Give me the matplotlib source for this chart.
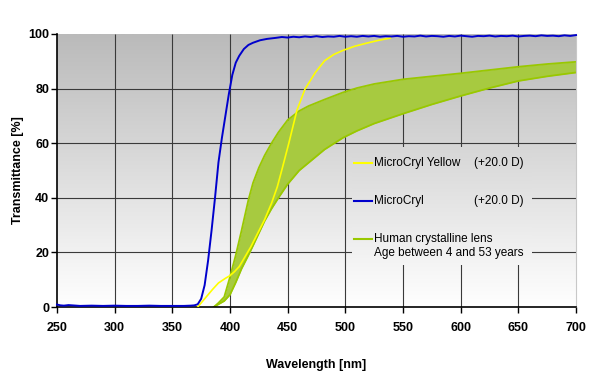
import numpy as np
import matplotlib
matplotlib.use("Agg")
import matplotlib.pyplot as plt
from matplotlib.colors import LinearSegmentedColormap

# MicroCryl (blue)
blue_nm = [250, 253, 256, 260, 270, 280, 290, 300, 310, 320, 330, 340, 350, 360, 366, 369,
           372, 375, 378, 381, 384, 387, 390, 393, 396, 399, 402, 405, 408, 412, 416, 420,
           426, 432, 440, 445, 450, 455, 460, 465, 470, 475, 480, 485, 490, 495, 500, 505,
           510, 515, 520, 525, 530, 535, 540, 545, 550, 555, 560, 565, 570, 575, 580, 585,
           590, 595, 600, 605, 610, 615, 620, 625, 630, 635, 640, 645, 650, 655, 660, 665,
           670, 675, 680, 685, 690, 695, 700]
blue_t = [0.9, 0.6, 0.5, 0.7, 0.4, 0.5, 0.4, 0.5, 0.4, 0.4, 0.5, 0.4, 0.4, 0.4, 0.5, 0.6,
          1.0, 3.0, 8.0, 17.0, 28.0, 40.0, 53.0, 62.0, 70.0, 78.0, 85.0, 89.5, 92.0, 94.5, 96.0, 96.8,
          97.7, 98.2, 98.6, 98.9, 98.7, 99.0, 98.8, 99.1, 98.9, 99.2, 98.9, 99.1, 99.0, 99.3, 99.0, 99.2,
          99.0, 99.3, 99.1, 99.3, 99.0, 99.2, 99.1, 99.3, 99.0, 99.2, 99.1, 99.4, 99.1, 99.3, 99.2, 99.0,
          99.3, 99.1, 99.4, 99.2, 99.0, 99.3, 99.2, 99.4, 99.1, 99.3, 99.2, 99.4, 99.1, 99.3, 99.4, 99.2,
          99.5, 99.3, 99.4, 99.2, 99.5, 99.3, 99.6]

# MicroCryl Yellow
yel_nm = [372, 375, 380, 385, 390, 396, 400, 404, 408, 413, 418, 424, 430, 436, 441, 445,
          451, 458, 465, 474, 482, 490, 498, 508, 519, 529, 539]
yel_t = [0.0, 1.5, 4.0, 6.5, 8.8, 10.5, 11.5, 13.0, 14.8, 18.4, 22.0, 27.0, 32.0, 38.0, 44.0, 50.3,
         60.0, 72.0, 79.8, 85.9, 90.2, 92.5, 94.0, 95.5, 96.7, 97.7, 98.5]

# Human crystalline lens range (age 4 to 53)
lens_nm = [386, 390, 395, 400, 405, 410, 416, 420, 425, 430, 436, 442, 450, 460, 468, 482,
           498, 510, 525, 550, 575, 600, 625, 650, 675, 700]
lens_hi = [0.0, 1.5, 3.7, 11.0, 19.0, 28.0, 39.3, 45.5, 51.0, 55.5, 60.0, 64.0, 68.5, 71.8, 73.6, 76.0,
           78.6, 80.2, 81.7, 83.4, 84.5, 85.6, 86.8, 88.0, 89.0, 89.8]
lens_lo = [0.0, 1.0, 2.2, 4.5, 9.0, 14.0, 19.0, 22.5, 27.0, 31.5, 36.0, 40.0, 45.0, 50.0, 52.8, 57.7,
           62.0, 64.5, 67.2, 70.8, 74.2, 77.3, 80.2, 82.8, 84.5, 85.9]

x_ticks = [250, 300, 350, 400, 450, 500, 550, 600, 650, 700]
y_ticks = [0, 20, 40, 60, 80, 100]

plt.rcParams["font.family"] = ["Liberation Sans", "DejaVu Sans"]

fig = plt.figure(figsize=(6.07, 3.77), dpi=100)
ax = fig.add_axes([57 / 607, 1 - 307 / 377, 519 / 607, 273 / 377])

# grey-to-white background
cmap = LinearSegmentedColormap.from_list("bg", ["#ffffff", "#bababa"])
grad = np.linspace(0, 100, 256).reshape(-1, 1)
ax.imshow(grad, extent=(250, 700, 0, 100), origin="lower", aspect="auto",
          cmap=cmap, vmin=0, vmax=100, zorder=0.1, interpolation="bilinear")

# inner grid lines only (no line along top / right edge)
ax.vlines(x_ticks[1:-1], 0, 100, color="#3a3a3a", linewidth=0.8, zorder=0.5)
ax.hlines(y_ticks[1:-1], 250, 700, color="#3a3a3a", linewidth=0.8, zorder=0.5)

# legend area hides the grid
lx0, lx1, ly0, ly1 = 505.5, 661.5, 15.5, 58.6
sub = np.linspace(ly0, ly1, 64).reshape(-1, 1)
ax.imshow(sub, extent=(lx0, lx1, ly0, ly1), origin="lower", aspect="auto",
          cmap=cmap, vmin=0, vmax=100, zorder=0.7, interpolation="bilinear")

ax.fill_between(lens_nm, lens_lo, lens_hi, color="#a7ca40", linewidth=0, zorder=2)
ax.plot(lens_nm, lens_hi, color="#99c800", linewidth=1.3, zorder=2.1)
ax.plot(lens_nm, lens_lo, color="#99c800", linewidth=1.3, zorder=2.1)
ax.plot(yel_nm, yel_t, color="#ffff00", linewidth=1.2, zorder=3)
ax.plot(blue_nm, blue_t, color="#0000cc", linewidth=1.4, zorder=4, clip_on=False)

ax.set_xlim(250, 700)
ax.set_ylim(0, 100)
ax.set_xticks(x_ticks)
ax.set_yticks(y_ticks)
ax.tick_params(axis="x", length=4, width=1, pad=7, labelsize=9, color="black")
ax.tick_params(axis="y", length=4, width=1, pad=1.5, labelsize=9, color="black")
for lab in ax.get_xticklabels() + ax.get_yticklabels():
    lab.set_fontweight("bold")

ax.spines["top"].set_visible(False)
ax.spines["right"].set_color("#c8c8c8")
ax.spines["left"].set_linewidth(1.2)
ax.spines["bottom"].set_linewidth(1.2)

ax.set_xlabel("Wavelength [nm]", fontsize=9, fontweight="bold")
ax.set_ylabel("Transmittance [%]", fontsize=9, fontweight="bold")
ax.xaxis.set_label_coords(0.5, -0.19)
ax.yaxis.set_label_coords(-0.064, 0.5)

# legend drawn by hand
tr = ax.transAxes
entries = [("#ffff00", 0.527, "MicroCryl Yellow", "(+20.0 D)"),
           ("#0000cc", 0.388, "MicroCryl", "(+20.0 D)"),
           ("#99c800", 0.249, "Human crystalline lens", None)]
for col, yy, name, power in entries:
    ax.plot([0.572, 0.607], [yy, yy], color=col, linewidth=1.5, transform=tr, zorder=5)
    ax.text(0.611, yy, name, transform=tr, fontsize=8.5, va="center", ha="left", zorder=5)
    if power:
        ax.text(0.803, yy, power, transform=tr, fontsize=8.5, va="center", ha="left", zorder=5)
ax.text(0.611, 0.198, "Age between 4 and 53 years", transform=tr, fontsize=8.5,
        va="center", ha="left", zorder=5)

fig.savefig("out.png", dpi=100)
